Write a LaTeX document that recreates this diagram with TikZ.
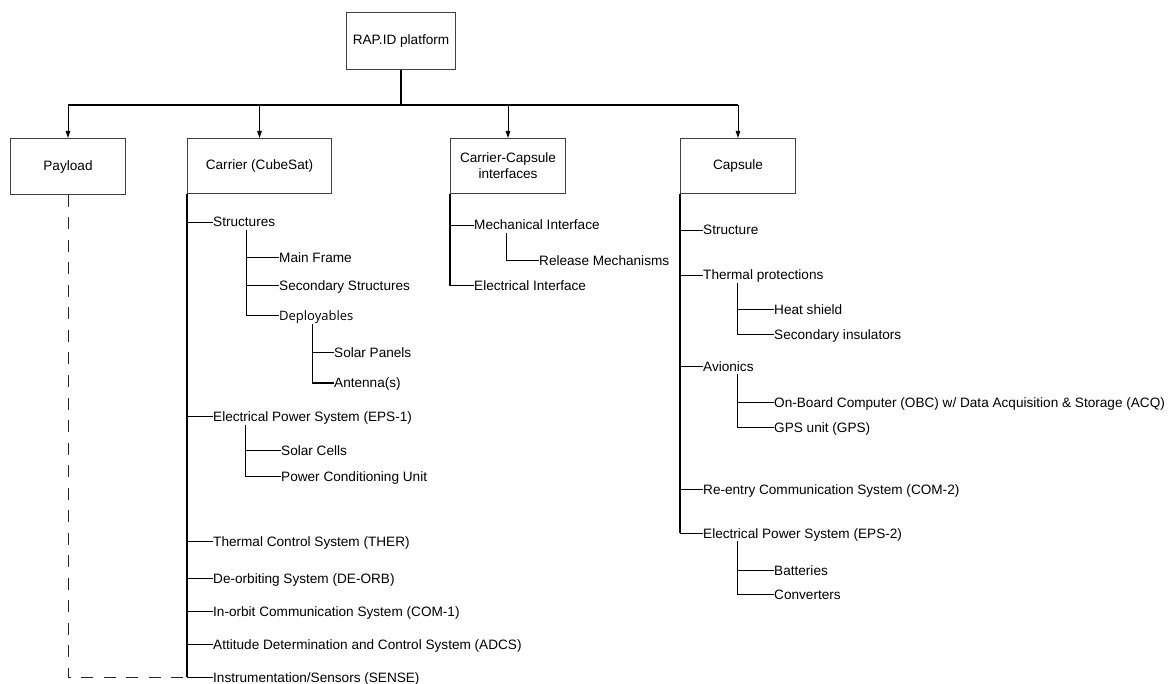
\documentclass[tikz,border=0pt]{standalone}
\usepackage{fontspec}
\setmainfont{Liberation Sans}
\newfontfamily\depfont{Open Sans}
\usetikzlibrary{arrows.meta}
\newcommand{\fsz}{\fontsize{13.6}{16}\selectfont}
\begin{document}
\begin{tikzpicture}[x=1pt,y=-1pt,
  box/.style={draw=black!75, line width=1pt, anchor=north west, align=center, font=\fsz, inner sep=2pt},
  lbl/.style={anchor=west, inner sep=0pt, text height=10pt, text depth=0pt, font=\fsz},
  trunk/.style={line width=1.8pt, black},
  subtrunk/.style={line width=1pt, black},
  br/.style={line width=0.9pt, black},
  hline/.style={line width=1.2pt, black},
  arr/.style={line width=0.8pt, black, -{Triangle[length=7pt,width=4.5pt]}},
  dashline/.style={line width=1pt, black!85, dash pattern=on 12pt off 10.5pt}
]
\useasboundingbox (0,0) rectangle (1175,684);

% boxes
\node[box, minimum width=109pt, minimum height=57.5pt] (rap) at (346,12) {RAP.ID platform};
\node[box, minimum width=115pt, minimum height=56pt] (payload) at (10,138) {Payload};
\node[box, minimum width=144pt, minimum height=55pt] (carrier) at (187,138) {Carrier (CubeSat)};
\node[box, minimum width=115pt, minimum height=55pt] (cc) at (450,138) {Carrier-Capsule\\interfaces};
\node[box, minimum width=115pt, minimum height=55pt] (capsule) at (680,138) {Capsule};

% top connectors
\path (rap.south) ++(0,34.5) coordinate (hub);
\draw[trunk] (rap.south) -- (hub);
\draw[hline] (hub -| payload.north) -- (hub -| capsule.north);
\draw[arr] (hub -| payload.north) -- (payload.north);
\draw[arr] (hub -| carrier.north) -- (carrier.north);
\draw[arr] (hub -| cc.north) -- (cc.north);
\draw[arr] (hub -| capsule.north) -- (capsule.north);

% carrier items
\node[lbl] (structures) at (213,222) {Structures};
\node[lbl] (mainframe) at (279,258) {Main Frame};
\node[lbl] (secstruct) at (279,285.7) {Secondary Structures};
\node[lbl, font=\depfont\fontsize{13}{16}\selectfont] (deploy) at (279,316) {Deployables};
\node[lbl] (solarpanels) at (334,353) {Solar Panels};
\node[lbl] (antenna) at (334,383) {Antenna(s)};
\node[lbl] (eps1) at (213,416.7) {Electrical Power System (EPS-1)};
\node[lbl] (solarcells) at (281,450.7) {Solar Cells};
\node[lbl] (pcu) at (281,476) {Power Conditioning Unit};
\node[lbl] (ther) at (213,541) {Thermal Control System (THER)};
\node[lbl] (deorb) at (213,578.7) {De-orbiting System (DE-ORB)};
\node[lbl] (com1) at (213,611.7) {In-orbit Communication System (COM-1)};
\node[lbl] (adcs) at (213,644.7) {Attitude Determination and Control System (ADCS)};
\node[lbl] (sense) at (213,677) {Instrumentation/Sensors (SENSE)};

\draw[trunk] (carrier.south west) -- (carrier.south west |- sense.west);
\foreach \n in {structures,eps1,ther,deorb,com1,adcs,sense}
  \draw[br] (carrier.south west |- \n.west) -- (\n.west);
\draw[subtrunk] ([xshift=33pt,yshift=-3pt]structures.south west) |- (mainframe.west);
\draw[subtrunk] ([xshift=33pt,yshift=-3pt]structures.south west) |- (secstruct.west);
\draw[subtrunk] ([xshift=33pt,yshift=-3pt]structures.south west) |- (deploy.west);
\draw[subtrunk] ([xshift=33pt,yshift=-3pt]deploy.south west) |- (solarpanels.west);
\draw[subtrunk] ([xshift=33pt,yshift=-3pt]deploy.south west) |- (antenna.west);
\draw[subtrunk] ([xshift=32pt,yshift=-3pt]eps1.south west) |- (solarcells.west);
\draw[subtrunk] ([xshift=32pt,yshift=-3pt]eps1.south west) |- (pcu.west);

% payload dashed link
\draw[dashline] (payload.south) |- (carrier.south west |- sense.west);

% carrier-capsule interfaces
\node[lbl] (mech) at (474,225) {Mechanical Interface};
\node[lbl] (release) at (539,260.7) {Release Mechanisms};
\node[lbl] (elec) at (474,285.7) {Electrical Interface};
\draw[trunk] (cc.south west) -- (cc.south west |- elec.west);
\foreach \n in {mech,elec}
  \draw[br] (cc.south west |- \n.west) -- (\n.west);
\draw[subtrunk] ([xshift=32pt,yshift=-3pt]mech.south west) |- (release.west);

% capsule
\node[lbl] (structure) at (703,230) {Structure};
\node[lbl] (thermprot) at (703,275) {Thermal protections};
\node[lbl] (heat) at (774,310) {Heat shield};
\node[lbl] (secins) at (774,335) {Secondary insulators};
\node[lbl] (avionics) at (703,366) {Avionics};
\node[lbl] (obc) at (774,402) {On-Board Computer (OBC) w/ Data Acquisition \& Storage (ACQ)};
\node[lbl] (gps) at (774,427) {GPS unit (GPS)};
\node[lbl] (reentry) at (703,489) {Re-entry Communication System (COM-2)};
\node[lbl] (eps2) at (703,533) {Electrical Power System (EPS-2)};
\node[lbl] (batteries) at (774,570) {Batteries};
\node[lbl] (converters) at (774,594) {Converters};

\draw[trunk] (capsule.south west) -- (capsule.south west |- eps2.west);
\foreach \n in {structure,thermprot,avionics,reentry,eps2}
  \draw[br] (capsule.south west |- \n.west) -- (\n.west);
\draw[subtrunk] ([xshift=34pt,yshift=-3pt]thermprot.south west) |- (heat.west);
\draw[subtrunk] ([xshift=34pt,yshift=-3pt]thermprot.south west) |- (secins.west);
\draw[subtrunk] ([xshift=34pt,yshift=-3pt]avionics.south west) |- (obc.west);
\draw[subtrunk] ([xshift=34pt,yshift=-3pt]avionics.south west) |- (gps.west);
\draw[subtrunk] ([xshift=34pt,yshift=-3pt]eps2.south west) |- (batteries.west);
\draw[subtrunk] ([xshift=34pt,yshift=-3pt]eps2.south west) |- (converters.west);
\end{tikzpicture}
\end{document}
